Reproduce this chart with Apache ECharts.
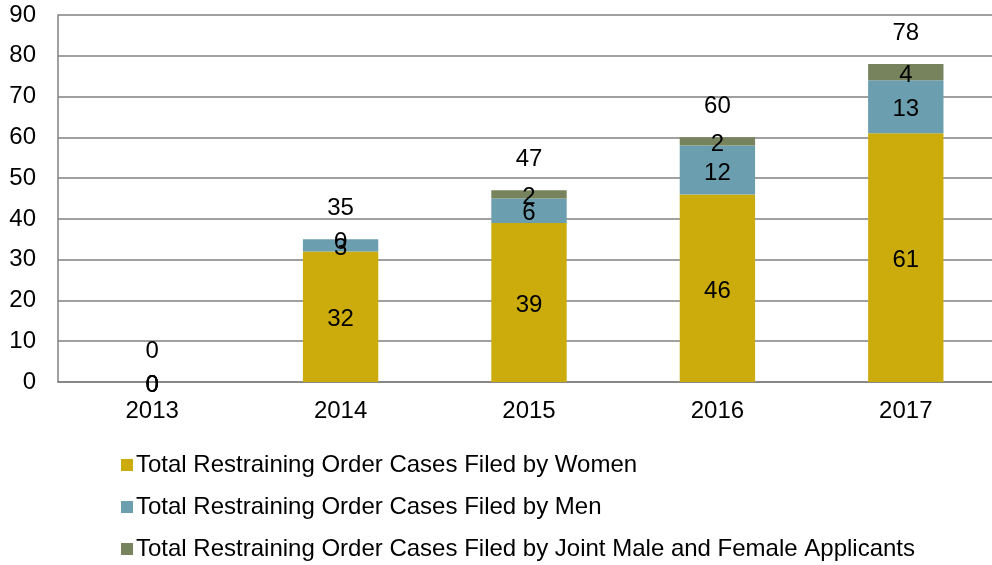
<!DOCTYPE html>
<html>
<head>
<meta charset="utf-8">
<script src="https://cdn.jsdelivr.net/npm/echarts@6/dist/echarts.min.js"></script>
<style>
  html, body { margin: 0; padding: 0; background: #fff; overflow: hidden; }
  /* a bit wider than the window: the plot area runs past the right edge */
  #main { width: 1002px; height: 565px; }
</style>
</head>
<body>
<div id="main"></div>
<script>
var years = ['2013', '2014', '2015', '2016', '2017'];
var women = [0, 32, 39, 46, 61];
var men = [0, 3, 6, 12, 13];
var joint = [0, 0, 2, 2, 4];
var totals = [0, 35, 47, 60, 78];

var names = [
  'Total Restraining Order Cases Filed by Women',
  'Total Restraining Order Cases Filed by Men',
  'Total Restraining Order Cases Filed by Joint Male and Female Applicants'
];

var chart = echarts.init(document.getElementById('main'));
var font = '"Liberation Sans", Arial, sans-serif';
var fs = 24;

function seg(name, data, color) {
  return {
    name: name,
    type: 'bar',
    stack: 'total',
    barWidth: '40%',
    data: data,
    itemStyle: { color: color },
    label: {
      show: true,
      position: 'inside',
      offset: [0, 3],
      color: '#000',
      fontSize: fs,
      fontFamily: font
    }
  };
}

// one legend per row so they stack like the original
var legends = names.map(function (n, i) {
  return {
    orient: 'vertical',
    left: 116,
    top: 448 + i * 42,
    itemWidth: 12,
    itemHeight: 12,
    icon: 'rect',
    data: [n],
    selectedMode: false,
    textStyle: { fontSize: fs, fontFamily: font, color: '#000', padding: [0, 0, 0, -2] }
  };
});

var option = {
  animation: false,
  backgroundColor: '#fff',
  grid: { left: 58, right: 2, top: 15, bottom: 183 },
  legend: legends,
  xAxis: {
    type: 'category',
    data: years,
    axisLine: { lineStyle: { color: '#808080', width: 1.5 } },
    axisTick: { show: false },
    axisLabel: { color: '#000', fontSize: fs, fontFamily: font, margin: 17 }
  },
  yAxis: {
    type: 'value',
    min: 0,
    max: 90,
    interval: 10,
    axisLine: { show: true, lineStyle: { color: '#808080', width: 1.5 } },
    axisTick: { show: false },
    splitLine: { lineStyle: { color: '#808080', width: 1.5 } },
    axisLabel: { color: '#000', fontSize: fs, fontFamily: font, margin: 22 }
  },
  series: [
    seg(names[0], women, '#CCAC0C'),
    seg(names[1], men, '#6B9FB0'),
    seg(names[2], joint, '#76835C'),
    {
      name: 'Total',
      type: 'line',
      data: totals,
      symbol: 'circle',
      symbolSize: 1,
      itemStyle: { color: 'rgba(0,0,0,0)' },
      lineStyle: { opacity: 0 },
      label: {
        show: true,
        position: 'top',
        distance: 18,
        color: '#000',
        fontSize: fs,
        fontFamily: font
      },
      z: 10
    }
  ]
};

chart.setOption(option);
</script>
</body>
</html>
